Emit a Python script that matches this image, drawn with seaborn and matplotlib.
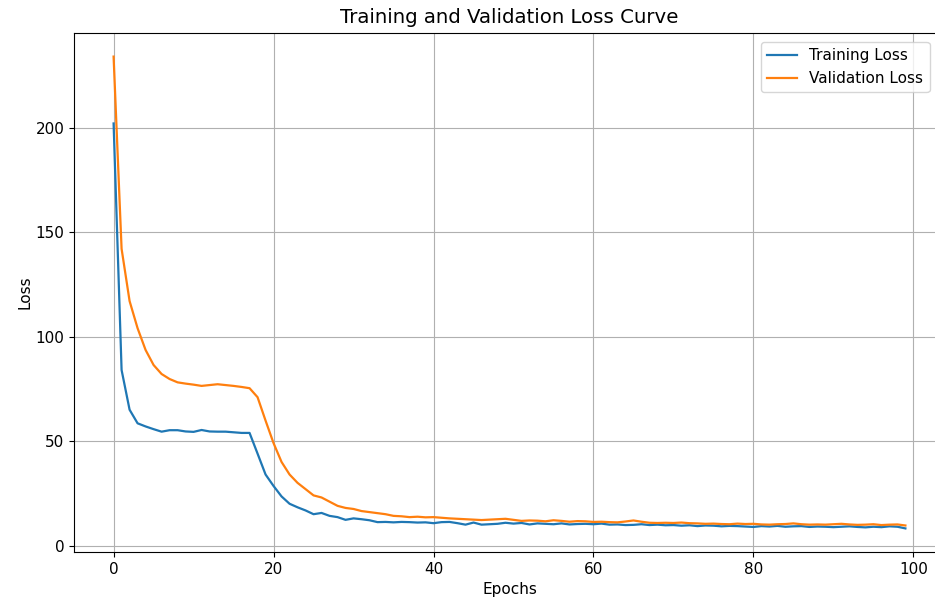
import numpy as np
import pandas as pd
import seaborn as sns
import matplotlib
matplotlib.use("Agg")
import matplotlib.pyplot as plt

# %% values
epochs = list(range(100))

train_loss = [
    202, 84, 65, 58.5, 57, 55.7, 54.5, 55.2, 55.2, 54.6,
    54.4, 55.3, 54.6, 54.5, 54.5, 54.2, 53.9, 53.9, 44, 34,
    28.5, 23.5, 20, 18.3, 16.8, 15, 15.6, 14.2, 13.6, 12.3,
    13, 12.6, 12.1, 11.2, 11.3, 11.1, 11.3, 11.2, 11, 11.1,
    10.7, 11.2, 11.3, 10.7, 10, 11, 10, 10.2, 10.4, 10.9,
    10.5, 10.8, 10.1, 10.6, 10.4, 10.2, 10.6, 10.1, 10.3, 10.4,
    10.2, 10.5, 10, 10.1, 9.8, 9.9, 10.2, 9.8, 10, 9.7,
    9.8, 9.5, 9.7, 9.3, 9.6, 9.5, 9.2, 9.4, 9.3, 9.1,
    8.9, 9.3, 9.1, 9.4, 9.0, 9.2, 9.3, 8.9, 9.1, 9.0,
    8.8, 9.0, 9.2, 8.9, 8.7, 9.0, 8.8, 9.2, 9.0, 8.2,
]

val_loss = [
    234, 142, 117, 104, 93.6, 86.4, 82.1, 79.7, 78.1, 77.5,
    77, 76.4, 76.8, 77.2, 76.8, 76.4, 75.9, 75.3, 71, 59.8,
    49, 40, 34, 30, 27, 24, 23, 21, 19, 18,
    17.5, 16.5, 16, 15.5, 15, 14.2, 14, 13.6, 13.8, 13.5,
    13.6, 13.3, 13, 12.8, 12.6, 12.4, 12.2, 12.4, 12.6, 12.8,
    12.3, 11.8, 12.0, 11.9, 11.6, 12.1, 11.8, 11.4, 11.7, 11.6,
    11.3, 11.4, 11.2, 11.1, 11.5, 12.0, 11.4, 10.9, 10.8, 10.9,
    10.8, 11.0, 10.7, 10.6, 10.4, 10.5, 10.3, 10.2, 10.5, 10.3,
    10.4, 10.1, 10.0, 10.2, 10.3, 10.6, 10.2, 10.0, 10.1, 10.0,
    10.2, 10.4, 10.1, 9.9, 10.0, 10.2, 9.8, 10.0, 10.1, 9.6,
]

df = pd.DataFrame({
    "Epochs": epochs * 2,
    "Loss": train_loss + val_loss,
    "series": ["Training Loss"] * 100 + ["Validation Loss"] * 100,
})

# %% plot
fig = plt.figure(figsize=(9.35, 6.01), dpi=100)
# right spine sits just past the image edge in the reference
ax = fig.add_axes([74/935, 49/601, 871/935, 519/601])

sns.lineplot(data=df, x="Epochs", y="Loss", hue="series",
             palette=["#1f77b4", "#ff7f0e"], linewidth=1.6, ax=ax)

ax.set_xlim(-4.95, 103.95)
ax.spines["right"].set_visible(False)
ax.set_title("Training and Validation Loss Curve", fontsize=14.2, pad=7)
ax.set_xlabel("Epochs", fontsize=11)
ax.set_ylabel("Loss", fontsize=11, labelpad=2)
ax.tick_params(labelsize=11)
ax.grid(True)
ax.legend(loc="upper right", bbox_to_anchor=(0.991, 0.997), fontsize=11)

fig.savefig("out.png", dpi=100)
